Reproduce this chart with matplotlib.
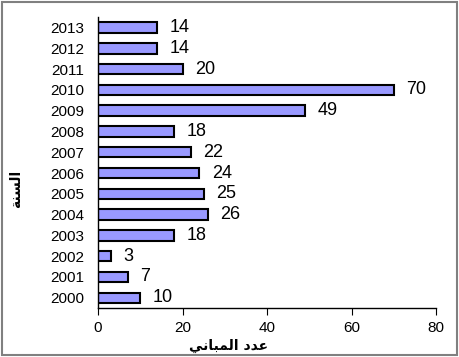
import matplotlib.pyplot as plt
from matplotlib.patches import Rectangle

years = ['2000', '2001', '2002', '2003', '2004', '2005', '2006',
         '2007', '2008', '2009', '2010', '2011', '2012', '2013']
buildings = [10, 7, 3, 18, 26, 25, 24, 22, 18, 49, 70, 20, 14, 14]

# arabic titles written in presentation forms, visual order (matplotlib does no shaping)
xlabel = '\ufef2\ufee7\ufe8e\ufe92\ufee4\ufedf\ufe8d \ufea9\ufeaa\ufecb'  # عدد المباني
ylabel = '\ufe94\ufee8\ufeb4\ufedf\ufe8d'  # السنة

plt.rcParams['font.family'] = ['Liberation Sans', 'DejaVu Sans']

fig = plt.figure(figsize=(4.59, 3.57), dpi=100)
ax = fig.add_axes([0.2135, 0.137, 0.7365, 0.815])

pos = list(range(len(years)))
ax.barh(pos, buildings, height=0.5, color='#9999FF', edgecolor='black', linewidth=1.5)
for p, v in zip(pos, buildings):
	ax.annotate(str(v), (v, p), xytext=(9, 0), textcoords='offset points',
		ha='left', va='center', fontsize=13)

ax.set_xlim(0, 80)
ax.set_ylim(-0.5, 13.5)
ax.set_xticks([0, 20, 40, 60, 80])
ax.set_yticks(pos)
ax.set_yticklabels(years)
ax.tick_params(axis='y', length=0, labelsize=11, pad=10)
ax.tick_params(axis='x', length=5, labelsize=11, direction='out', pad=4)
for s in ['top', 'right']:
	ax.spines[s].set_visible(False)
for s in ['left', 'bottom']:
	ax.spines[s].set_linewidth(1)

fig.text(0.497, 0.032, xlabel, family=['DejaVu Sans'], fontweight='bold', fontsize=10,
	ha='center', va='center')
fig.text(0.035, 0.47, ylabel, family=['DejaVu Sans'], fontweight='bold', fontsize=10,
	rotation=90, ha='center', va='center')

fig.patches.append(Rectangle((0.004, 0.006), 0.992, 0.988, transform=fig.transFigure,
	fill=False, edgecolor='#808080', linewidth=1.5))

fig.savefig('out.png', dpi=100)
